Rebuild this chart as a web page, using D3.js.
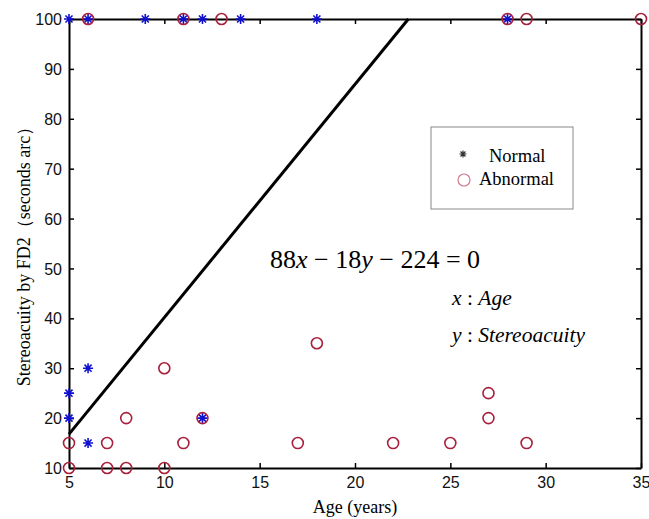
<!DOCTYPE html>
<html>
<head>
<meta charset="utf-8">
<script src="https://cdn.jsdelivr.net/npm/d3@7"></script>
<style>
  body { margin: 0; background: #fff; }
  svg { display: block; }
</style>
</head>
<body>
<div id="chart"></div>
<script>
// data
var normalAge = [5, 6, 9, 11, 12, 14, 18, 28, 5, 5, 6, 6, 12];
var normalStereo = [100, 100, 100, 100, 100, 100, 100, 100, 25, 20, 30, 15, 20];

var abnormalAge = [6, 11, 13, 28, 29, 35, 5, 5, 7, 7, 8, 8, 10, 10, 11, 12, 17, 18, 22, 25, 27, 27, 29];
var abnormalStereo = [100, 100, 100, 100, 100, 100, 15, 10, 15, 10, 20, 10, 30, 10, 15, 20, 15, 35, 15, 15, 25, 20, 15];

// boundary line as drawn
var lineAge = [5, 22.8];
var lineStereo = [16.8, 100];

var xTicks = [5, 10, 15, 20, 25, 30, 35];
var yTicks = [10, 20, 30, 40, 50, 60, 70, 80, 90, 100];

var W = 649, H = 519;
var margin = { top: 19, right: 8, bottom: 51, left: 69 };
var width = W - margin.left - margin.right,
    height = H - margin.top - margin.bottom;

var svg = d3.select("#chart").append("svg")
    .attr("width", W).attr("height", H);

var g = svg.append("g")
    .attr("transform", "translate(" + margin.left + "," + margin.top + ")");

var x = d3.scaleLinear().domain([5, 35]).range([0, width]);
var y = d3.scaleLinear().domain([10, 100]).range([height, 0]);

// axes (box with inward ticks like matlab)
var tickFont = "'Liberation Sans', Arial, sans-serif";
var xAxis = g.append("g")
    .attr("transform", "translate(0," + height + ")")
    .call(d3.axisBottom(x).tickValues(xTicks).tickSize(-5).tickPadding(9).tickSizeOuter(0));
var yAxis = g.append("g")
    .call(d3.axisLeft(y).tickValues(yTicks).tickSize(-5).tickPadding(7).tickSizeOuter(0));
g.append("g")
    .call(d3.axisTop(x).tickValues(xTicks).tickSize(-5).tickFormat("").tickSizeOuter(0));
g.append("g")
    .attr("transform", "translate(" + width + ",0)")
    .call(d3.axisRight(y).tickValues(yTicks).tickSize(-5).tickFormat("").tickSizeOuter(0));

g.selectAll(".domain").attr("stroke", "#000").attr("stroke-width", 2);
g.selectAll(".tick line").attr("stroke", "#000").attr("stroke-width", 1.5);
g.selectAll(".tick text")
    .attr("font-family", tickFont)
    .attr("font-size", 16)
    .attr("fill", "#111");
yAxis.selectAll(".tick text").attr("dy", "0.35em");

// boundary line
var lineData = lineAge.map(function (a, i) { return [a, lineStereo[i]]; });
g.append("path")
    .datum(lineData)
    .attr("d", d3.line().x(function (d) { return x(d[0]); }).y(function (d) { return y(d[1]); }))
    .attr("stroke", "#000")
    .attr("stroke-width", 3)
    .attr("fill", "none");

// asterisk marker
function star(s) {
    var p = "";
    for (var k = 0; k < 4; k++) {
        var a = k * Math.PI / 4;
        var dx = Math.cos(a) * s, dy = Math.sin(a) * s;
        p += "M" + (-dx) + "," + (-dy) + "L" + dx + "," + dy;
    }
    return p;
}

var normal = normalAge.map(function (a, i) { return { age: a, s: normalStereo[i] }; });
var abnormal = abnormalAge.map(function (a, i) { return { age: a, s: abnormalStereo[i] }; });

g.append("g").selectAll("path")
    .data(normal)
    .enter().append("path")
    .attr("transform", function (d) { return "translate(" + x(d.age) + "," + y(d.s) + ")"; })
    .attr("d", star(5))
    .attr("stroke", "#1010d0")
    .attr("stroke-width", 1.6);

g.append("g").selectAll("circle")
    .data(abnormal)
    .enter().append("circle")
    .attr("cx", function (d) { return x(d.age); })
    .attr("cy", function (d) { return y(d.s); })
    .attr("r", 5.5)
    .attr("fill", "none")
    .attr("stroke", "#a8203c")
    .attr("stroke-width", 1.6);

// axis labels
var serif = "'Liberation Serif', 'Times New Roman', serif";
svg.append("text")
    .attr("x", 355).attr("y", 513)
    .attr("text-anchor", "middle")
    .attr("font-family", serif).attr("font-size", 18)
    .text("Age (years)");
svg.append("text")
    .attr("transform", "translate(30,252) rotate(-90)")
    .attr("text-anchor", "middle")
    .attr("font-family", serif).attr("font-size", 18)
    .text("Stereoacuity by FD2（seconds arc）");

// legend
svg.append("rect")
    .attr("x", 431).attr("y", 127).attr("width", 142).attr("height", 82)
    .attr("fill", "#fff").attr("stroke", "#888").attr("stroke-width", 1);
svg.append("path")
    .attr("transform", "translate(463,154)")
    .attr("d", star(3.5))
    .attr("stroke", "#333").attr("stroke-width", 1.2);
svg.append("text")
    .attr("x", 489).attr("y", 162)
    .attr("font-family", serif).attr("font-size", 18.5)
    .text("Normal");
svg.append("circle")
    .attr("cx", 464).attr("cy", 180).attr("r", 6)
    .attr("fill", "none").attr("stroke", "#d07a8a").attr("stroke-width", 1.2);
svg.append("text")
    .attr("x", 479).attr("y", 185)
    .attr("font-family", serif).attr("font-size", 18.5)
    .text("Abnormal");

// equation
var eq = svg.append("text")
    .attr("x", 270).attr("y", 268)
    .attr("font-family", serif).attr("font-size", 26);
eq.append("tspan").text("88");
eq.append("tspan").attr("font-style", "italic").text("x");
eq.append("tspan").text(" \u2212 18");
eq.append("tspan").attr("font-style", "italic").text("y");
eq.append("tspan").text(" \u2212 224 = 0");

var l1 = svg.append("text")
    .attr("x", 452).attr("y", 305)
    .attr("font-family", serif).attr("font-size", 21.5);
l1.append("tspan").attr("font-style", "italic").text("x");
l1.append("tspan").text(" : ");
l1.append("tspan").attr("font-style", "italic").text("Age");

var l2 = svg.append("text")
    .attr("x", 452).attr("y", 342)
    .attr("font-family", serif).attr("font-size", 21.5);
l2.append("tspan").attr("font-style", "italic").text("y");
l2.append("tspan").text(" : ");
l2.append("tspan").attr("font-style", "italic").text("Stereoacuity");
</script>
</body>
</html>
